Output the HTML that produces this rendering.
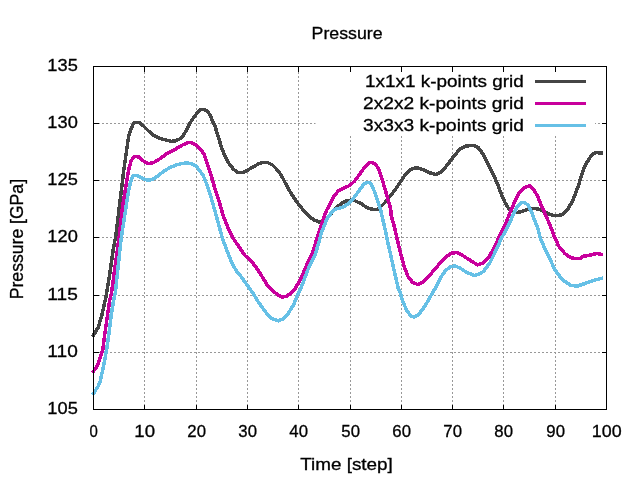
<!DOCTYPE html>
<html><head><meta charset="utf-8"><title>Pressure</title>
<style>html,body{margin:0;padding:0;background:#fff;overflow:hidden}svg{display:block}text{font-family:"Liberation Sans", sans-serif;font-size:16.4px;fill:#000;stroke:#000;stroke-width:0.3px}</style></head><body>
<svg width="640" height="480" viewBox="0 0 640 480">
<rect width="640" height="480" fill="#fff"/>
<g stroke="#989898" stroke-width="1" stroke-dasharray="2,2" fill="none" shape-rendering="crispEdges">
<line x1="144.5" y1="409.5" x2="144.5" y2="66.5"/>
<line x1="196.5" y1="409.5" x2="196.5" y2="66.5"/>
<line x1="247.5" y1="409.5" x2="247.5" y2="66.5"/>
<line x1="298.5" y1="409.5" x2="298.5" y2="66.5"/>
<line x1="350.5" y1="409.5" x2="350.5" y2="66.5"/>
<line x1="401.5" y1="409.5" x2="401.5" y2="66.5"/>
<line x1="452.5" y1="409.5" x2="452.5" y2="66.5"/>
<line x1="503.5" y1="409.5" x2="503.5" y2="66.5"/>
<line x1="555.5" y1="409.5" x2="555.5" y2="66.5"/>
<line x1="93.5" y1="352.5" x2="606.5" y2="352.5"/>
<line x1="93.5" y1="295.5" x2="606.5" y2="295.5"/>
<line x1="93.5" y1="237.5" x2="606.5" y2="237.5"/>
<line x1="93.5" y1="180.5" x2="606.5" y2="180.5"/>
<line x1="93.5" y1="123.5" x2="606.5" y2="123.5"/>
</g>
<g stroke="#000" stroke-width="1" fill="none" shape-rendering="crispEdges">
<line x1="93.5" y1="409.5" x2="93.5" y2="404.5"/>
<line x1="93.5" y1="66.5" x2="93.5" y2="71.5"/>
<line x1="144.5" y1="409.5" x2="144.5" y2="404.5"/>
<line x1="144.5" y1="66.5" x2="144.5" y2="71.5"/>
<line x1="196.5" y1="409.5" x2="196.5" y2="404.5"/>
<line x1="196.5" y1="66.5" x2="196.5" y2="71.5"/>
<line x1="247.5" y1="409.5" x2="247.5" y2="404.5"/>
<line x1="247.5" y1="66.5" x2="247.5" y2="71.5"/>
<line x1="298.5" y1="409.5" x2="298.5" y2="404.5"/>
<line x1="298.5" y1="66.5" x2="298.5" y2="71.5"/>
<line x1="350.5" y1="409.5" x2="350.5" y2="404.5"/>
<line x1="350.5" y1="66.5" x2="350.5" y2="71.5"/>
<line x1="401.5" y1="409.5" x2="401.5" y2="404.5"/>
<line x1="401.5" y1="66.5" x2="401.5" y2="71.5"/>
<line x1="452.5" y1="409.5" x2="452.5" y2="404.5"/>
<line x1="452.5" y1="66.5" x2="452.5" y2="71.5"/>
<line x1="503.5" y1="409.5" x2="503.5" y2="404.5"/>
<line x1="503.5" y1="66.5" x2="503.5" y2="71.5"/>
<line x1="555.5" y1="409.5" x2="555.5" y2="404.5"/>
<line x1="555.5" y1="66.5" x2="555.5" y2="71.5"/>
<line x1="606.5" y1="409.5" x2="606.5" y2="404.5"/>
<line x1="606.5" y1="66.5" x2="606.5" y2="71.5"/>
<line x1="93.5" y1="409.5" x2="98.5" y2="409.5"/>
<line x1="606.5" y1="409.5" x2="601.5" y2="409.5"/>
<line x1="93.5" y1="352.5" x2="98.5" y2="352.5"/>
<line x1="606.5" y1="352.5" x2="601.5" y2="352.5"/>
<line x1="93.5" y1="295.5" x2="98.5" y2="295.5"/>
<line x1="606.5" y1="295.5" x2="601.5" y2="295.5"/>
<line x1="93.5" y1="237.5" x2="98.5" y2="237.5"/>
<line x1="606.5" y1="237.5" x2="601.5" y2="237.5"/>
<line x1="93.5" y1="180.5" x2="98.5" y2="180.5"/>
<line x1="606.5" y1="180.5" x2="601.5" y2="180.5"/>
<line x1="93.5" y1="123.5" x2="98.5" y2="123.5"/>
<line x1="606.5" y1="123.5" x2="601.5" y2="123.5"/>
<line x1="93.5" y1="66.5" x2="98.5" y2="66.5"/>
<line x1="606.5" y1="66.5" x2="601.5" y2="66.5"/>
</g>
<rect x="315.5" y="72" width="279.5" height="63.5" fill="#fff"/>
<polyline points="93.5,335.2 98.3,327.2 101.9,315.0 104.4,303.7 106.4,294.5 110.0,272.5 113.1,250.0 115.5,237.5 118.1,217.5 120.6,196.0 122.6,180.0 123.8,170.0 126.3,152.5 128.6,136.5 131.1,128.7 133.9,122.6 139.9,122.6 143.7,126.2 148.7,131.2 153.7,135.6 160.0,138.5 166.2,140.0 171.2,141.3 175.0,141.0 180.0,138.8 183.6,135.0 187.0,129.0 190.0,123.0 194.0,117.0 199.0,110.8 201.5,109.3 206.9,110.4 210.0,115.0 213.7,123.7 215.0,126.2 217.5,134.4 220.0,142.5 222.5,150.0 225.0,156.2 227.5,161.2 230.0,165.0 233.7,169.4 237.5,172.5 243.7,172.3 251.2,168.1 257.5,164.4 261.9,162.5 267.5,162.5 272.5,165.0 276.2,168.7 281.2,175.0 285.0,182.5 288.7,189.4 293.7,197.5 298.7,204.4 303.7,210.6 308.7,216.2 313.7,219.7 318.7,221.9 321.9,222.2 325.0,219.6 330.0,215.0 335.0,208.7 342.5,202.7 346.2,200.8 350.0,200.2 355.0,200.8 361.2,203.7 367.5,208.0 372.5,209.3 376.9,209.5 380.0,207.5 385.0,202.5 390.0,196.2 395.0,190.0 400.0,182.5 405.0,175.0 410.0,170.2 411.0,169.2 417.0,167.6 423.0,169.6 429.0,172.6 436.0,174.6 442.0,171.6 448.0,164.0 454.0,156.0 460.0,149.0 466.0,146.0 474.0,145.4 478.0,147.4 483.0,154.0 488.0,164.0 493.7,175.5 497.5,184.0 501.2,193.7 505.0,202.5 508.7,208.7 512.5,211.9 517.5,212.5 522.5,211.2 528.7,208.9 533.7,208.3 538.7,209.2 545.0,211.9 550.0,214.4 555.0,215.8 560.0,215.2 562.0,214.6 567.5,209.5 570.5,204.5 573.1,200.0 576.2,191.2 578.7,185.0 581.2,176.2 583.7,168.7 586.9,162.5 590.0,157.5 593.1,154.0 596.2,152.3 599.4,152.9 601.3,153.1" fill="none" stroke="#454545" stroke-width="3.5" stroke-linejoin="round" stroke-linecap="square" shape-rendering="crispEdges"/>
<polyline points="93.5,371.2 97.5,365.6 100.0,358.5 102.7,350.0 105.0,332.5 107.5,315.0 109.8,300.0 111.6,292.5 115.0,267.0 119.1,237.5 121.9,212.0 123.6,200.0 125.3,190.0 126.9,180.0 128.6,170.0 131.2,160.5 134.4,156.5 138.7,156.9 143.7,161.2 148.7,163.7 153.7,162.5 160.0,158.7 167.5,153.1 175.0,149.4 182.5,145.0 187.5,142.7 191.2,142.7 196.2,145.0 200.0,149.4 201.2,150.0 204.4,155.0 207.0,162.5 211.0,175.0 215.0,189.0 219.0,201.0 223.0,215.0 228.0,228.0 233.0,238.0 238.0,245.4 245.0,255.5 252.5,262.5 258.7,271.2 265.0,281.2 267.5,285.6 272.5,290.6 278.7,295.6 282.5,297.0 286.2,296.3 291.2,293.1 295.0,288.7 298.7,282.5 302.5,275.0 306.2,266.2 310.0,257.5 311.9,255.0 315.3,243.7 318.9,232.5 322.5,221.2 326.2,211.2 330.0,203.7 333.7,196.4 338.7,190.6 345.0,187.5 350.0,185.4 355.0,180.6 360.0,173.7 365.0,166.9 368.7,163.1 371.2,162.3 375.0,163.5 378.1,168.1 380.6,174.4 383.1,182.5 385.6,191.2 388.1,200.0 390.6,208.7 391.3,216.0 394.4,227.0 397.6,241.0 401.0,255.0 404.4,267.0 408.0,276.5 412.5,282.2 417.5,284.5 423.5,282.0 429.0,276.0 435.0,269.0 441.0,262.0 447.0,256.0 452.0,253.0 457.0,252.6 462.0,255.0 468.0,259.0 474.0,262.6 477.5,265.0 482.5,263.1 488.7,257.5 495.0,246.2 498.7,237.5 501.3,232.5 505.0,225.0 510.0,212.5 514.4,202.5 518.7,193.7 523.7,188.1 529.4,185.6 533.7,189.4 537.5,196.2 541.2,205.0 545.0,213.7 550.0,225.0 553.7,235.0 558.7,246.2 565.0,253.7 571.2,257.9 575.6,258.5 580.0,258.4 583.7,256.2 591.2,255.0 596.2,253.5 599.4,254.0 601.3,254.4" fill="none" stroke="#c8009c" stroke-width="3.5" stroke-linejoin="round" stroke-linecap="square" shape-rendering="crispEdges"/>
<polyline points="93.5,393.5 97.5,387.2 98.6,385.5 100.0,382.0 102.5,371.0 105.0,358.5 107.2,346.0 108.9,334.0 111.2,315.0 113.7,300.0 115.4,292.0 118.3,265.0 121.2,238.0 125.6,210.0 127.1,200.0 128.6,190.6 130.5,182.5 132.0,177.5 133.6,175.6 137.4,175.6 140.5,177.2 144.2,179.3 148.7,180.3 153.7,178.7 157.5,176.2 163.7,171.2 170.0,167.5 176.2,165.0 182.5,163.4 187.5,163.0 192.5,164.0 196.2,166.2 200.0,171.2 203.0,175.0 207.0,185.0 211.0,197.0 218.0,222.0 222.0,237.0 227.0,251.0 232.0,263.0 237.0,272.0 240.0,275.0 246.2,283.7 252.5,292.5 258.7,302.5 265.0,311.2 268.0,315.0 272.5,319.0 278.5,320.8 284.0,318.5 287.5,314.5 293.5,305.0 297.5,295.0 300.5,289.0 304.0,280.0 307.8,270.0 311.5,262.0 315.0,255.0 318.1,245.0 321.2,233.7 324.4,225.0 327.5,218.1 331.2,213.1 335.0,209.4 343.7,206.9 350.0,202.5 355.0,196.2 360.0,189.4 364.4,183.5 367.5,182.5 370.2,182.9 373.1,188.1 376.2,196.2 378.7,203.7 380.6,210.0 381.8,215.0 385.0,229.0 388.4,245.0 392.0,261.0 395.6,277.0 398.4,289.0 399.6,291.0 403.0,302.0 407.0,311.0 411.0,316.0 414.0,317.0 418.0,315.0 423.0,309.0 428.0,301.0 433.0,292.0 436.0,287.0 438.0,283.0 441.0,277.0 446.0,270.0 451.0,266.6 455.0,266.0 460.0,268.0 466.0,272.0 474.0,275.4 476.2,275.0 480.0,273.7 483.7,271.2 490.0,262.5 496.2,250.0 501.2,238.7 504.8,232.5 508.7,225.0 513.1,215.0 517.5,206.2 521.2,202.7 524.0,202.3 528.1,205.0 531.2,211.2 535.0,221.2 538.1,228.7 540.0,237.5 543.7,246.0 547.5,253.7 555.0,270.0 562.5,280.0 571.2,285.6 577.5,286.0 586.2,283.1 595.0,280.0 601.3,278.5" fill="none" stroke="#66c0e6" stroke-width="3.5" stroke-linejoin="round" stroke-linecap="square" shape-rendering="crispEdges"/>
<line x1="535" y1="81.5" x2="586" y2="81.5" stroke="#454545" stroke-width="3" shape-rendering="crispEdges"/>
<line x1="535" y1="103.5" x2="586" y2="103.5" stroke="#c8009c" stroke-width="3" shape-rendering="crispEdges"/>
<line x1="535" y1="125.5" x2="586" y2="125.5" stroke="#66c0e6" stroke-width="3" shape-rendering="crispEdges"/>
<rect x="93.5" y="66.5" width="513.0" height="343.0" fill="none" stroke="#000" stroke-width="1"/>
<text id="leg0" style="font-size:17px" x="364.99" y="86.80" textLength="158.81" lengthAdjust="spacingAndGlyphs">1x1x1 k-points grid</text>
<text id="leg1" style="font-size:17px" x="362.99" y="108.80" textLength="160.82" lengthAdjust="spacingAndGlyphs">2x2x2 k-points grid</text>
<text id="leg2" style="font-size:17px" x="362.99" y="130.80" textLength="160.82" lengthAdjust="spacingAndGlyphs">3x3x3 k-points grid</text>
<text id="x0" x="89.53" y="436.80" textLength="8.33" lengthAdjust="spacingAndGlyphs">0</text>
<text id="x10" x="134.31" y="436.80" textLength="20.73" lengthAdjust="spacingAndGlyphs">10</text>
<text id="x20" x="187.37" y="436.80" textLength="18.65" lengthAdjust="spacingAndGlyphs">20</text>
<text id="x30" x="238.37" y="436.80" textLength="18.65" lengthAdjust="spacingAndGlyphs">30</text>
<text id="x40" x="289.38" y="436.80" textLength="18.65" lengthAdjust="spacingAndGlyphs">40</text>
<text id="x50" x="341.37" y="436.80" textLength="18.65" lengthAdjust="spacingAndGlyphs">50</text>
<text id="x60" x="392.37" y="436.80" textLength="18.65" lengthAdjust="spacingAndGlyphs">60</text>
<text id="x70" x="443.37" y="436.80" textLength="18.65" lengthAdjust="spacingAndGlyphs">70</text>
<text id="x80" x="494.37" y="436.80" textLength="18.65" lengthAdjust="spacingAndGlyphs">80</text>
<text id="x90" x="546.37" y="436.80" textLength="18.65" lengthAdjust="spacingAndGlyphs">90</text>
<text id="x100" x="591.78" y="436.80" textLength="29.84" lengthAdjust="spacingAndGlyphs">100</text>
<text id="y105" x="47.38" y="414.40" textLength="30.45" lengthAdjust="spacingAndGlyphs">105</text>
<text id="y110" x="47.38" y="357.40" textLength="30.45" lengthAdjust="spacingAndGlyphs">110</text>
<text id="y115" x="47.38" y="300.40" textLength="30.45" lengthAdjust="spacingAndGlyphs">115</text>
<text id="y120" x="47.38" y="242.40" textLength="30.45" lengthAdjust="spacingAndGlyphs">120</text>
<text id="y125" x="47.38" y="185.40" textLength="30.45" lengthAdjust="spacingAndGlyphs">125</text>
<text id="y130" x="47.38" y="128.40" textLength="30.45" lengthAdjust="spacingAndGlyphs">130</text>
<text id="y135" x="47.38" y="71.40" textLength="30.45" lengthAdjust="spacingAndGlyphs">135</text>
<text id="title" style="font-size:17px" x="311.59" y="38.90" textLength="71.01" lengthAdjust="spacingAndGlyphs">Pressure</text>
<text id="xlabel" x="300.20" y="469.60" textLength="92.61" lengthAdjust="spacingAndGlyphs">Time [step]</text>
<text id="ylabel" style="font-size:18px" transform="translate(23.30,0) rotate(-90)" x="-299.22" y="0" textLength="120.24" lengthAdjust="spacingAndGlyphs">Pressure [GPa]</text>
</svg></body></html>
